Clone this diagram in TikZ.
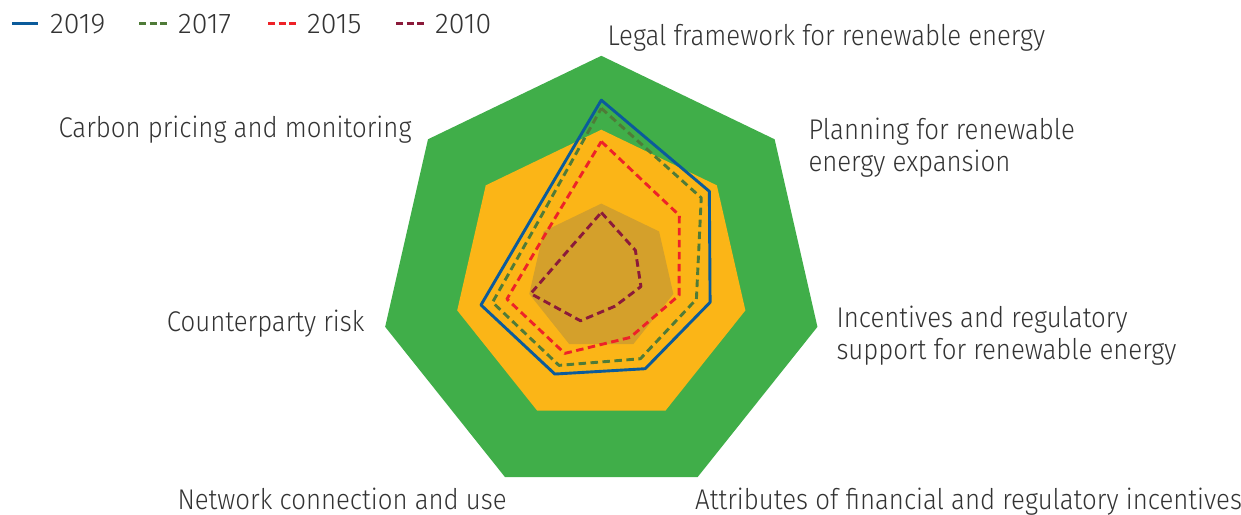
\documentclass[tikz,border=0pt]{standalone}
\usepackage{fontspec}
\setmainfont{Fira Sans Light}
\usepackage{graphicx}
\definecolor{cGreen}{HTML}{40AE49}
\definecolor{cOrange}{HTML}{FBB517}
\definecolor{cInner}{HTML}{D4A02B}
\definecolor{c2019}{HTML}{0B5B9B}
\definecolor{c2017}{HTML}{4F7B38}
\definecolor{c2015}{HTML}{EE2228}
\definecolor{c2010}{HTML}{8B1A3A}
\definecolor{txt}{HTML}{333333}
\newcommand\sx{0.905}
\newcommand\lbltext[1]{\scalebox{\sx}[1]{\begin{tabular}[t]{@{}l@{}}#1\end{tabular}}}
\newcommand\hepta[1]{(90:#1) -- (38.5714:#1) -- (-12.8571:#1) -- (-64.2857:#1) -- (-115.7143:#1) -- (-167.1429:#1) -- (141.4286:#1) -- cycle}
\newcommand\radar[7]{(90:#1) -- (38.5714:#2) -- (-12.8571:#3) -- (-64.2857:#4) -- (-115.7143:#5) -- (-167.1429:#6) -- (141.4286:#7) -- cycle}
\tikzset{
  lbl/.style={anchor=base west, inner sep=0pt, text=txt, font=\fontsize{28.5}{32}\selectfont},
  series/.style={line width=2.9pt, line join=round},
  s2019/.style={series, draw=c2019},
  s2017/.style={series, draw=c2017, dash pattern=on 7.5pt off 4.5pt},
  s2015/.style={series, draw=c2015, dash pattern=on 7.5pt off 4.5pt},
  s2010/.style={series, draw=c2010, dash pattern=on 7.5pt off 4.5pt},
}
\begin{document}
\begin{tikzpicture}[x=1pt,y=-1pt]
\useasboundingbox (0,0) rectangle (1241,514);
% radar
\begin{scope}[shift={(601.3,277.5)},x=73.9pt,y=73.9pt]
  \fill[cGreen] \hepta{3};
  \fill[cOrange] \hepta{2};
  \fill[cInner] \hepta{1};
  \draw[s2010] \radar{0.88}{0.59}{0.55}{0.43}{0.65}{0.98}{0.58};
  \draw[s2015] \radar{1.84}{1.35}{1.08}{0.90}{1.14}{1.31}{0.96};
  \draw[s2017] \radar{2.29}{1.73}{1.32}{1.22}{1.32}{1.51}{1.13};
  \draw[s2019] \radar{2.40}{1.87}{1.51}{1.37}{1.45}{1.67}{1.23};
\end{scope}
% legend
\coordinate (l19a) at (12,23.3); \coordinate (l19b) at (38.3,23.3);
\coordinate (l17a) at (139,23.3); \coordinate (l17b) at (167,23.3);
\coordinate (l15a) at (268,23.3); \coordinate (l15b) at (297,23.3);
\coordinate (l10a) at (396,23.3); \coordinate (l10b) at (424,23.3);
\draw[s2019, line cap=butt] (l19a) -- (l19b);
\draw[s2017, dash pattern=on 7pt off 3.5pt] (l17a) -- (l17b);
\draw[s2015, dash pattern=on 7pt off 3.5pt] (l15a) -- (l15b);
\draw[s2010, dash pattern=on 7pt off 3.5pt] (l10a) -- (l10b);
\node[lbl] (t19) at (50,33.3) {2019};
\node[lbl] (t17) at (178,33.3) {2017};
\node[lbl] (t15) at (307,33.3) {2015};
\node[lbl] (t10) at (435,33.3) {2010};
% axis labels
\node[lbl] (legal) at (607.3,45.7) {\lbltext{Legal framework for renewable energy}};
\node[lbl] (carbon) at (58.3,137.7) {\lbltext{Carbon pricing and monitoring}};
\node[lbl] (plan) at (808.3,139.3) {\lbltext{Planning for renewable\\energy expansion}};
\node[lbl] (incent) at (836.3,327.7) {\lbltext{Incentives and regulatory\\support for renewable energy}};
\node[lbl] (counter) at (166.7,331.7) {\lbltext{Counterparty risk}};
\node[lbl] (network) at (177.3,509) {\lbltext{Network connection and use}};
\node[lbl] (attrib) at (695,509) {\lbltext{Attributes of financial and regulatory incentives}};
\end{tikzpicture}
\end{document}
